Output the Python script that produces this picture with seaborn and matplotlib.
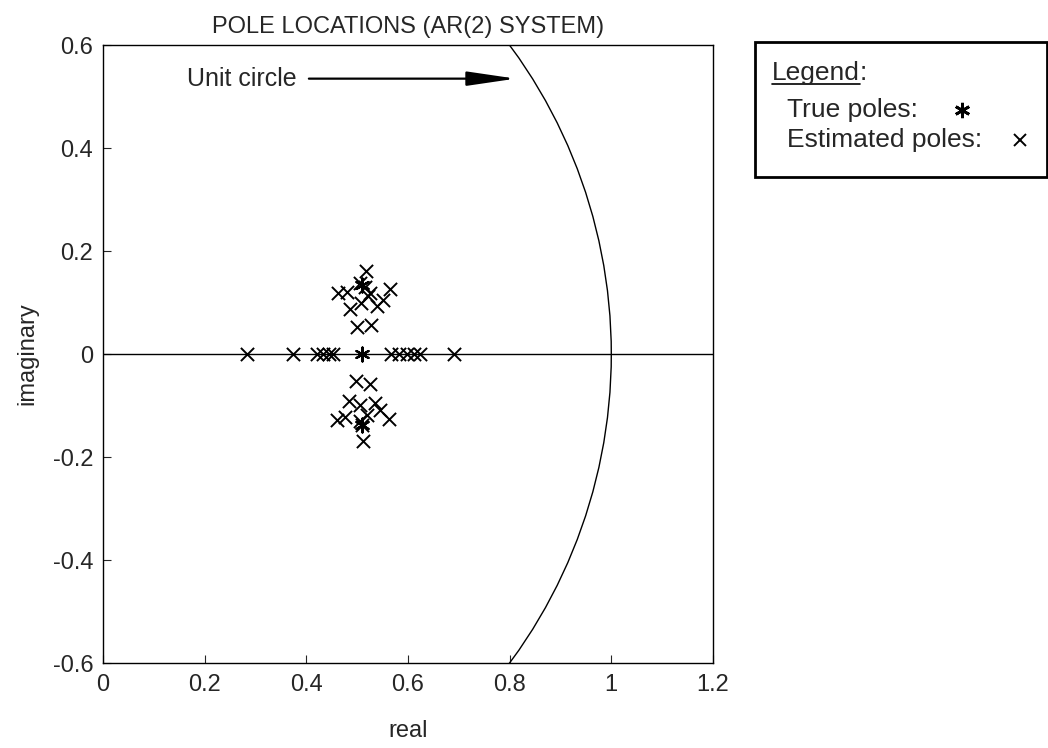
import matplotlib
matplotlib.use("Agg")
import matplotlib.pyplot as plt
import matplotlib.patches as mpatches
from matplotlib.lines import Line2D
import seaborn as sns
import pandas as pd

# estimated poles
est_real = [0.283, 0.373, 0.421, 0.432, 0.444, 0.453, 0.566, 0.583, 0.599, 0.611, 0.624, 0.691,
            0.518, 0.463, 0.480, 0.506, 0.515, 0.522, 0.564, 0.486, 0.507, 0.539, 0.551, 0.526, 0.499, 0.527,
            0.498, 0.526, 0.483, 0.505, 0.535, 0.545, 0.461, 0.476, 0.519, 0.562, 0.509, 0.512, 0.505]
est_imag = [0, 0, 0, 0, 0, 0, 0, 0, 0, 0, 0, 0,
            0.162, 0.119, 0.121, 0.138, 0.130, 0.112, 0.126, 0.087, 0.100, 0.093, 0.105, 0.118, 0.052, 0.056,
            -0.052, -0.059, -0.091, -0.099, -0.095, -0.109, -0.128, -0.122, -0.118, -0.127, -0.138, -0.168, -0.130]
true_real = [0.51, 0.51, 0.51]
true_imag = [0.135, 0.0, -0.137]

unit_radius = 1.0
xlim = (0, 1.2)
ylim = (-0.6, 0.6)
xticks = [0, 0.2, 0.4, 0.6, 0.8, 1, 1.2]
yticks = [-0.6, -0.4, -0.2, 0, 0.2, 0.4, 0.6]

sns.set_style("ticks")
plt.rcParams['font.family'] = ['Liberation Sans', 'DejaVu Sans']

fig = plt.figure(figsize=(10.48, 7.48), dpi=100)
ax = fig.add_axes([0.0983, 0.1136, 0.582, 0.826])

est = pd.DataFrame({'real': est_real, 'imag': est_imag})
tru = pd.DataFrame({'real': true_real, 'imag': true_imag})

ax.axhline(0, color='black', lw=1.0, zorder=1)
ax.add_patch(mpatches.Circle((0, 0), unit_radius, fill=False, ec='black', lw=1.0, zorder=1))

sns.scatterplot(data=est, x='real', y='imag', marker='x', s=90, color='black',
                linewidth=1.4, ax=ax, zorder=3)
sns.scatterplot(data=tru, x='real', y='imag', marker=(6, 2, 0), s=100, color='black',
                linewidth=1.6, ax=ax, zorder=4)

ax.set_xlim(*xlim)
ax.set_ylim(*ylim)
ax.set_xticks(xticks)
ax.set_xticklabels(['0', '0.2', '0.4', '0.6', '0.8', '1', '1.2'])
ax.set_yticks(yticks)
ax.set_yticklabels(['-0.6', '-0.4', '-0.2', '0', '0.2', '0.4', '0.6'])
ax.tick_params(direction='in', length=6, width=0.8, labelsize=17)
ax.tick_params(axis='x', pad=8)
ax.tick_params(axis='y', pad=7)
for sp in ax.spines.values():
    sp.set_linewidth(1.0)
    sp.set_color('black')

ax.set_title('POLE LOCATIONS (AR(2) SYSTEM)', fontsize=17, pad=9)
ax.set_xlabel('real', fontsize=17, labelpad=17)
ax.set_ylabel('imaginary', fontsize=17, labelpad=10)

ax.annotate('', xy=(0.812, 0.535), xytext=(0.405, 0.535),
            arrowprops=dict(arrowstyle='-|>,head_length=1.5,head_width=0.22',
                            mutation_scale=20, color='black', lw=1.6,
                            shrinkA=0, shrinkB=0))
ax.text(0.165, 0.535, 'Unit circle', fontsize=18, va='center', ha='left')

# legend box at the right
fs_leg = 19
fig.add_artist(mpatches.Rectangle((755 / 1048, 1 - 177 / 748), 292 / 1048, 135 / 748,
                                  transform=fig.transFigure, fill=False, ec='black', lw=2.0))
t = fig.text(772 / 1048, 1 - 73 / 748, 'Legend', fontsize=fs_leg, va='center', ha='left')
fig.canvas.draw()
bb = t.get_window_extent().transformed(fig.transFigure.inverted())
fig.text(bb.x1, 1 - 73 / 748, ':', fontsize=fs_leg, va='center', ha='left')
fig.add_artist(Line2D([bb.x0, bb.x1], [bb.y0 + 0.001, bb.y0 + 0.001], transform=fig.transFigure,
                      color='black', lw=1.2))
fig.text(787 / 1048, 1 - 110 / 748, 'True poles:', fontsize=fs_leg, va='center', ha='left')
fig.text(787 / 1048, 1 - 140 / 748, 'Estimated poles:', fontsize=fs_leg, va='center', ha='left')
fig.add_artist(Line2D([962 / 1048], [1 - 110 / 748], transform=fig.transFigure, marker=(6, 2, 0),
                      markersize=11, mew=2.0, color='black', ls='none'))
fig.add_artist(Line2D([1020 / 1048], [1 - 140 / 748], transform=fig.transFigure, marker='x',
                      markersize=8, mew=1.4, color='black', ls='none'))

fig.savefig('out.png', dpi=100)
